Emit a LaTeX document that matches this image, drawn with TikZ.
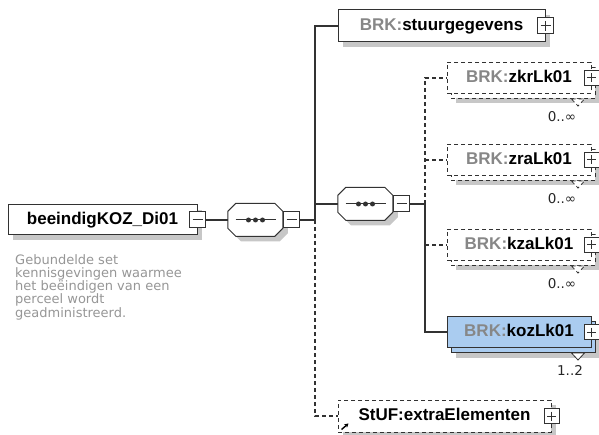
\documentclass[tikz,border=0pt]{standalone}
\usepackage{fontspec}
\setmainfont{Liberation Sans}
\newfontfamily\descfont{DejaVu Sans}
\usetikzlibrary {arrows.meta,
                 positioning,
                 shadows}
\definecolor{elemblue}{RGB}{170,204,240}
\definecolor{prefixgray}{RGB}{135,135,135}
\definecolor{linegray}{RGB}{50,50,50}
\definecolor{descgray}{RGB}{150,150,150}
\newcommand\pfx[1]{{\color{prefixgray}#1}}
\tikzset{
    base/.style={draw=linegray, line width=1pt, fill=white, inner sep=0pt},
        shade/.style={drop shadow={shadow xshift=5pt, shadow yshift=-5pt,
                      fill=black!22, opacity=1}},
        elem/.style={base, rectangle, minimum height=30pt, text height=12.5pt,
                     text depth=3.5pt,
                     font=\fontsize{17}{20}\selectfont\bfseries},
        many/.style={elem, minimum width=144pt, minimum height=31pt},
        opt/.style={dash pattern=on 4pt off 3pt},
        seq/.style={rectangle, inner sep=0pt, minimum width=55pt, minimum height=33pt},
        octa/.style={draw=linegray, line width=1pt, fill=white, shade},
        dotline/.style={draw=linegray, line width=1pt},
        btn/.style={draw=linegray, fill=white, line width=1pt, minimum size=15pt,
                    inner sep=0pt},
        minus/.style={btn, path picture={
                      \draw[linegray, line width=1pt]
                        ([xshift=3pt]path picture bounding box.west) --
                        ([xshift=-3pt]path picture bounding box.east);}},
        plus/.style={btn, path picture={
                      \draw[linegray, line width=1pt]
                        ([xshift=3pt]path picture bounding box.west) --
                        ([xshift=-3pt]path picture bounding box.east)
                        ([yshift=-3pt]path picture bounding box.north) --
                        ([yshift=3pt]path picture bounding box.south);}},
        conn/.style={draw=linegray, line width=1.2pt},
        notch/.style={draw=linegray, line width=0.8pt, fill=white},
        mult/.style={font=\descfont\fontsize{13.5}{15}\selectfont, text=black!85},
        desc/.style={align=left, inner sep=0pt, text=descgray,
                     font=\descfont\fontsize{13}{13.3}\selectfont},
 }

\begin{document}
\begin{tikzpicture}[x=1pt, y=-1pt]
    \useasboundingbox (0,0) rectangle (599,435);

    % root element
    \node[elem, shade, minimum width=189pt] (main) at (102.5,220) {beeindigKOZ\_Di01};
    \node[minus, minimum size=16pt] (mainsq) at (main.east) {};
    \node[desc, anchor=north west] (maindesc) at (15,254)
        {Gebundelde set\\kennisgevingen waarmee\\het beëindigen van een\\perceel wordt\\geadministreerd.};

    % sequences
    \node[seq] (seq1) at (255.5,220) {};
    \node[seq] (seq2) at (365.5,204) {};
    \foreach \s in {seq1, seq2} {
        \draw[octa] (\s.north west) ++(8,0) -- ++(39,0) -- ++(8,8) -- ++(0,17)
            -- ++(-8,8) -- ++(-39,0) -- ++(-8,-8) -- ++(0,-17) -- cycle;
        \draw[dotline] ([xshift=-20pt]\s.center) -- ([xshift=20pt]\s.center);
        \foreach \dx in {-7,0,7}
            \fill[linegray] ([xshift=\dx pt]\s.center) circle[radius=2.5pt];
    }
    \node[minus, minimum size=16pt, right=0pt of seq1] (seq1sq) {};
    \node[minus, minimum size=16pt, right=0pt of seq2] (seq2sq) {};

    \coordinate (bus1) at (315,220);
    \coordinate (bus2) at (425,204);

    % children
    \node[elem, shade, minimum width=207pt, minimum height=32pt] (stuur) at (441.5,26)
        {\pfx{BRK:}stuurgegevens};
    \node[plus, minimum size=16pt] (stuursq) at (stuur.east) {};

    \node[many, opt, shade] (zkrB) at (523,83) {};
    \node[many, opt] (zkr) at (519,78) {\pfx{BRK:}zkrLk01};
    \node[plus] (zkrsq) at (zkr.east) {};
    \draw[notch, opt] ([xshift=-24pt]zkrB.south east) -- ++(13,0) -- ++(-6.5,7) -- cycle;
    \node[mult] (zkrm) at (562,117) {0..∞};

    \node[many, opt, shade] (zraB) at (523,165) {};
    \node[many, opt] (zra) at (519,160) {\pfx{BRK:}zraLk01};
    \node[plus] (zrasq) at (zra.east) {};
    \draw[notch, opt] ([xshift=-24pt]zraB.south east) -- ++(13,0) -- ++(-6.5,7) -- cycle;
    \node[mult] (zram) at (562,199) {0..∞};

    \node[many, opt, shade] (kzaB) at (523,250) {};
    \node[many, opt] (kza) at (519,245) {\pfx{BRK:}kzaLk01};
    \node[plus] (kzasq) at (kza.east) {};
    \draw[notch, opt] ([xshift=-24pt]kzaB.south east) -- ++(13,0) -- ++(-6.5,7) -- cycle;
    \node[mult] (kzam) at (562,284) {0..∞};

    \node[many, fill=elemblue, shade] (kozB) at (523,337) {};
    \node[many, fill=elemblue] (koz) at (519,332) {\pfx{BRK:}kozLk01};
    \node[plus] (kozsq) at (koz.east) {};
    \draw[notch] ([xshift=-24pt]kozB.south east) -- ++(13,0) -- ++(-6.5,7) -- cycle;
    \node[mult] (kozm) at (570,370) {1..2};

    \node[elem, opt, shade, minimum width=213pt, minimum height=32pt] (stuf) at (444.5,416)
        {StUF:extraElementen};
    \node[plus] (stufsq) at (stuf.east) {};
    \draw[-{Stealth[length=4pt, width=4.5pt]}, line width=1.4pt]
        ([shift={(4,-3)}]stuf.south west) -- ++(7,-6);

    % connectors
    \draw[conn] (mainsq.east) -- (seq1.west);
    \draw[conn] (seq1sq.east) -- (bus1) |- (stuur.west);
    \draw[conn] (bus1 |- seq2.west) -- (seq2.west);
    \draw[conn, opt] (bus1) |- (stuf.west);
    \draw[conn] (seq2sq.east) -- (bus2) |- (koz.west);
    \draw[conn, opt] (bus2) |- (zkr.west);
    \draw[conn, opt] (bus2 |- zra.west) -- (zra.west);
    \draw[conn, opt] (bus2 |- kza.west) -- (kza.west);

\end{tikzpicture}
\end{document}
